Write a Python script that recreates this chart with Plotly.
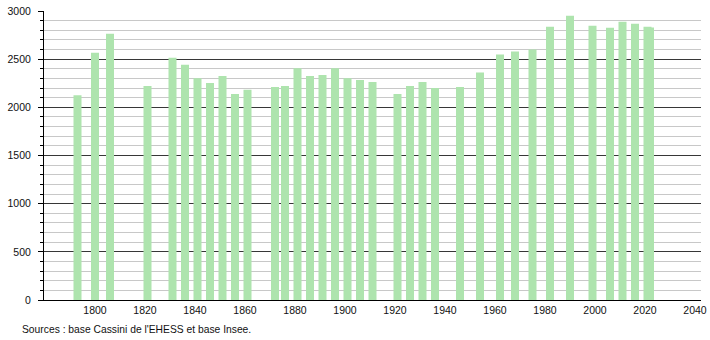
import plotly.graph_objects as go

years = [1793, 1800, 1806, 1821, 1831, 1836, 1841, 1846, 1851, 1856, 1861,
         1872, 1876, 1881, 1886, 1891, 1896, 1901, 1906, 1911,
         1921, 1926, 1931, 1936, 1946, 1954, 1962, 1968, 1975, 1982,
         1990, 1999, 2006, 2011, 2016, 2021, 2022]
population = [2125, 2566, 2764, 2222, 2514, 2441, 2302, 2253, 2326, 2139, 2182,
              2211, 2222, 2406, 2326, 2336, 2406, 2302, 2284, 2264,
              2139, 2222, 2264, 2201, 2211, 2361, 2549, 2580, 2600, 2836,
              2951, 2847, 2826, 2888, 2868, 2836, 2830]
x_ticks = list(range(1800, 2041, 20))
source_text = "Sources : base Cassini de l'EHESS et base Insee."

FONT = "Liberation Sans, Arial, sans-serif"

fig = go.Figure()
fig.add_trace(go.Bar(
    x=years, y=population, width=3.2,
    marker=dict(color="rgb(174,228,174)", line=dict(width=0)),
    hoverinfo="x+y",
))

fig.update_layout(
    width=710, height=340,
    margin=dict(l=44, r=9, t=11, b=40, autoexpand=False),
    paper_bgcolor="white", plot_bgcolor="white",
    showlegend=False,
    font=dict(family=FONT, size=11, color="#111"),
    xaxis=dict(
        range=[1779.6, 2042.4], automargin=False,
        tickmode="array", tickvals=x_ticks, ticktext=[str(v) for v in x_ticks],
        showgrid=False, zeroline=False,
        showline=True, linecolor="black", linewidth=1,
        ticks="", ticklen=0,
        tickfont=dict(family=FONT, size=10.5, color="#111"),
    ),
    yaxis=dict(
        range=[0, 3000], automargin=False,
        tickmode="linear", tick0=0, dtick=500,
        showgrid=True, gridcolor="rgb(55,55,55)", gridwidth=1,
        zeroline=False,
        showline=True, linecolor="black", linewidth=1,
        ticks="outside", ticklen=5, tickcolor="black", tickwidth=1,
        ticklabelstandoff=5,
        tickfont=dict(family=FONT, size=10.5, color="#111"),
        minor=dict(dtick=100, tick0=0, showgrid=True, gridcolor="rgb(200,200,200)",
                   gridwidth=1, ticks="outside", ticklen=3, tickcolor="black"),
    ),
    annotations=[dict(
        text=source_text, xref="paper", yref="paper",
        x=(20 - 44) / 657, y=-29 / 289, xanchor="left", yanchor="middle",
        showarrow=False, font=dict(family=FONT, size=10.3, color="#111"),
    )],
)

fig.write_html("out.html")
